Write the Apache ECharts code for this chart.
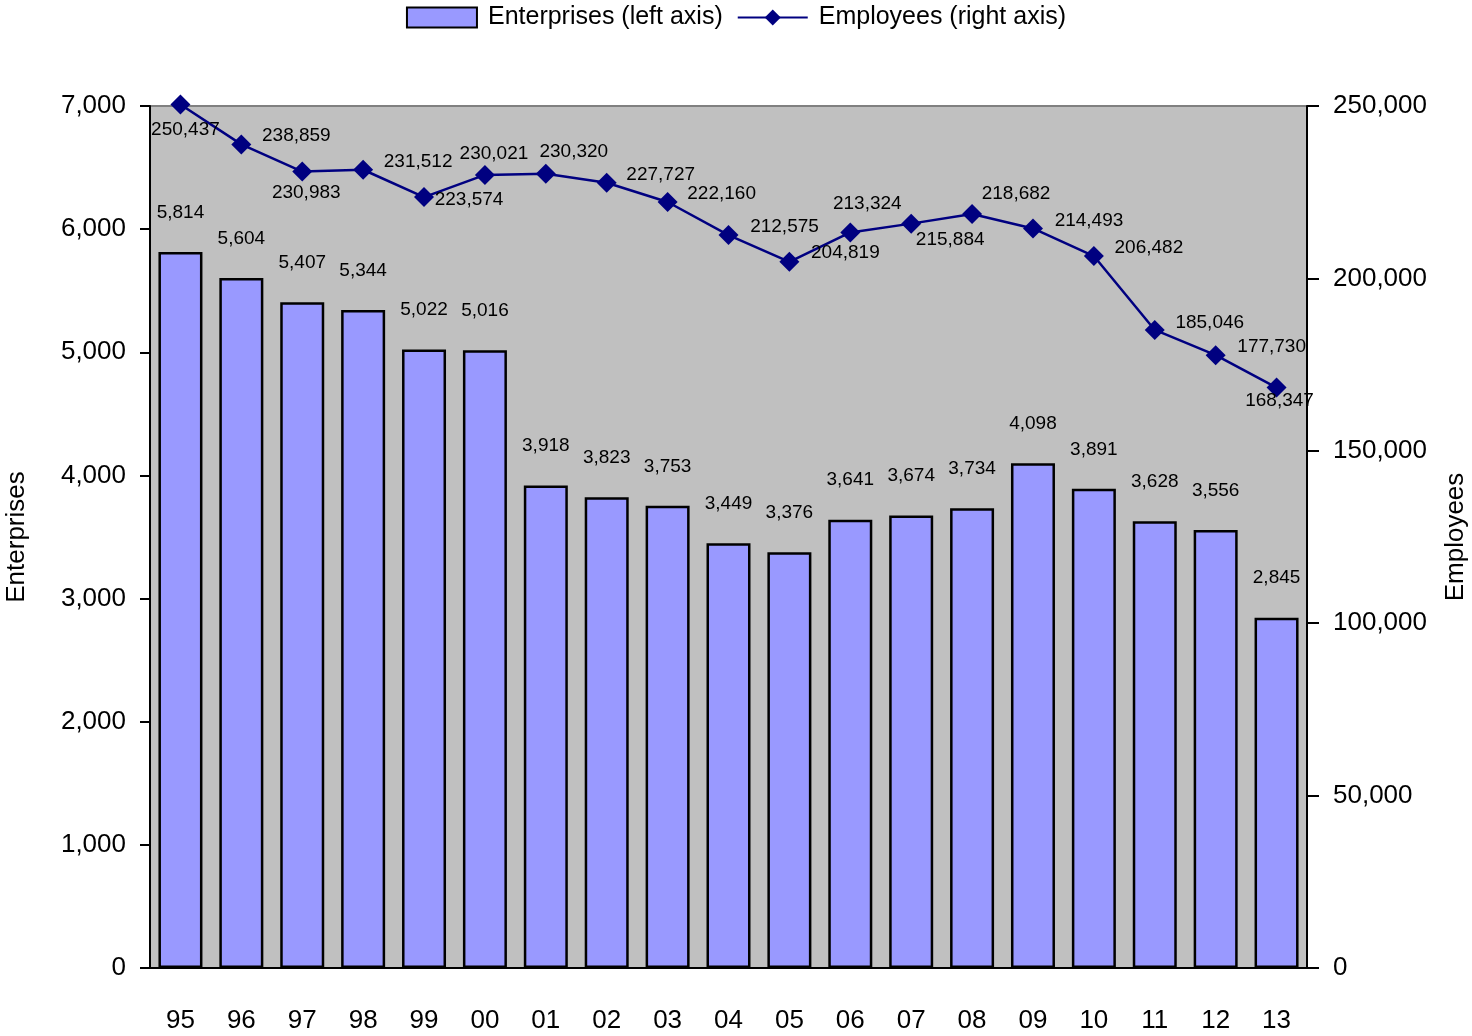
<!DOCTYPE html>
<html>
<head>
<meta charset="utf-8">
<script src="https://cdn.jsdelivr.net/npm/echarts@6/dist/echarts.min.js"></script>
<style>
html, body { margin: 0; padding: 0; background: #fff; }
#chart { width: 1472px; height: 1036px; }
</style>
</head>
<body>
<div id="chart"></div>
<script>
const years = ["95", "96", "97", "98", "99", "00", "01", "02", "03", "04", "05", "06", "07", "08", "09", "10", "11", "12", "13"]
const enterprises = [5814, 5604, 5407, 5344, 5022, 5016, 3918, 3823, 3753, 3449, 3376, 3641, 3674, 3734, 4098, 3891, 3628, 3556, 2845]
const employees = [250437, 238859, 230983, 231512, 223574, 230021, 230320, 227727, 222160, 212575, 204819, 213324, 215884, 218682, 214493, 206482, 185046, 177730, 168347]

// where each employee label sits relative to its marker (px)
const empLabelOffsets = [
  [5, 25], [55, -9], [4, 21], [55, -8], [45, 3], [9, -21], [28, -22], [54, -8], [54, -8], [56, -8],
  [56, -9], [17, -29], [39, 16], [44, -20], [56, -8], [55, -8], [55, -7], [56, -8], [3, 13]
]

const font = "'Liberation Sans', Arial, sans-serif"
const fmt = v => v.toLocaleString("en-US")

let myChart = echarts.init(document.getElementById("chart"))
myChart.setOption({
  animation: false,
  textStyle: { fontFamily: font, color: "#000" },
  legend: {
    top: 0,
    left: "center",
    itemWidth: 70,
    itemHeight: 20,
    itemGap: 14,
    textStyle: { fontFamily: font, fontSize: 25, color: "#000", padding: [0, 0, 0, 6] },
    data: [
      { name: "Enterprises (left axis)", icon: "rect", itemStyle: { borderColor: "#000", borderWidth: 2 } },
      { name: "Employees (right axis)" }
    ]
  },
  grid: {
    left: 150,
    right: 165,
    top: 106,
    bottom: 68,
    outerBoundsMode: "none",
    show: true,
    backgroundColor: "#c0c0c0",
    borderColor: "#808080",
    borderWidth: 2
  },
  xAxis: {
    type: "category",
    data: years,
    axisLine: { lineStyle: { color: "#000", width: 2 } },
    axisTick: { length: 12, lineStyle: { color: "#000", width: 2 } },
    axisLabel: { fontFamily: font, fontSize: 26, color: "#000", margin: 40 }
  },
  yAxis: [
    {
      type: "value",
      min: 0,
      max: 7000,
      interval: 1000,
      name: "Enterprises",
      nameLocation: "middle",
      nameGap: 120,
      nameTextStyle: { fontFamily: font, fontSize: 26, color: "#000" },
      axisLine: { show: true, lineStyle: { color: "#000", width: 2 } },
      axisTick: { show: true, length: 10, lineStyle: { color: "#000", width: 2 } },
      axisLabel: { fontFamily: font, fontSize: 26, color: "#000", margin: 24, formatter: fmt },
      splitLine: { show: false }
    },
    {
      type: "value",
      min: 0,
      max: 250000,
      interval: 50000,
      name: "Employees",
      nameLocation: "middle",
      nameGap: 136,
      nameTextStyle: { fontFamily: font, fontSize: 26, color: "#000" },
      axisLine: { show: true, lineStyle: { color: "#000", width: 2 } },
      axisTick: { show: true, length: 12, lineStyle: { color: "#000", width: 2 } },
      axisLabel: { fontFamily: font, fontSize: 26, color: "#000", margin: 26, formatter: fmt },
      splitLine: { show: false }
    }
  ],
  series: [
    {
      name: "Enterprises (left axis)",
      type: "bar",
      yAxisIndex: 0,
      data: enterprises,
      barWidth: 44,
      itemStyle: { color: "#9999ff", borderColor: "#000", borderWidth: 2.5 },
      label: {
        show: true,
        position: "top",
        distance: 30,
        fontFamily: font,
        fontSize: 19,
        color: "#000",
        formatter: p => fmt(p.value)
      }
    },
    {
      name: "Employees (right axis)",
      type: "line",
      yAxisIndex: 1,
      clip: false,
      data: employees.map((v, i) => ({ value: v, label: { offset: empLabelOffsets[i] } })),
      symbol: "diamond",
      symbolSize: 20,
      lineStyle: { color: "#000080", width: 2.5 },
      itemStyle: { color: "#000080" },
      label: {
        show: true,
        position: "inside",
        fontFamily: font,
        fontSize: 19,
        color: "#000",
        formatter: p => fmt(p.value)
      },
      z: 3
    }
  ]
})
</script>
</body>
</html>
